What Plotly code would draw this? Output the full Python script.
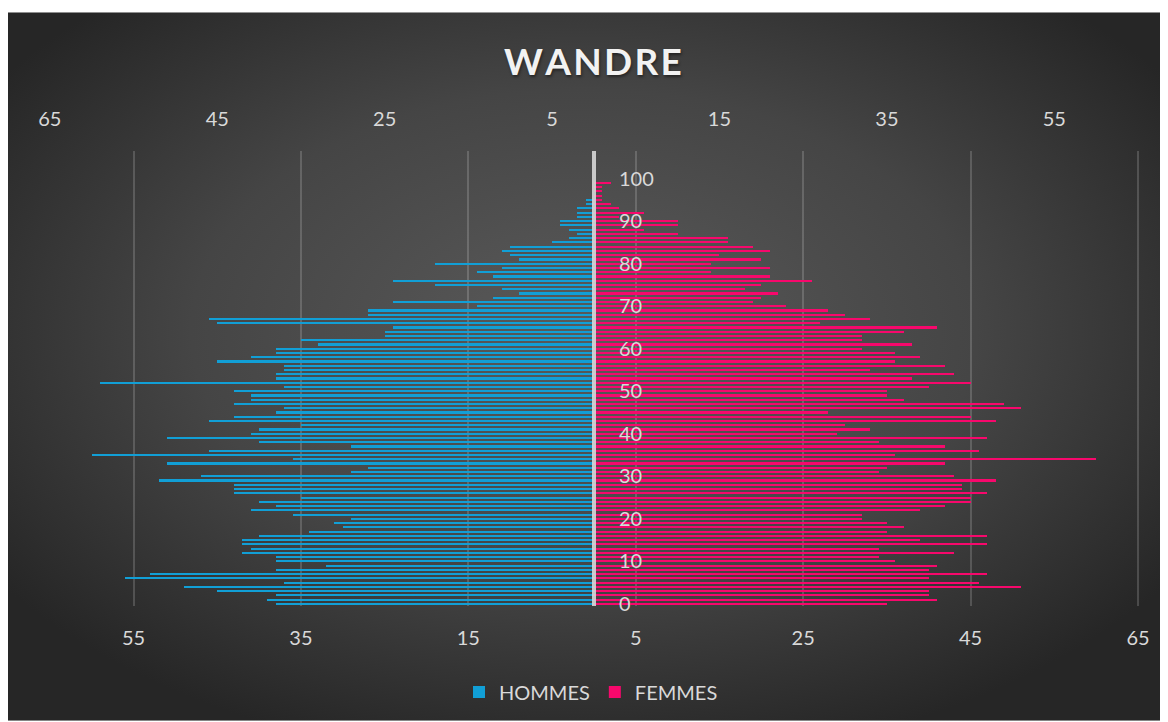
import base64
import plotly.graph_objects as go

# ---------------- data ----------------
ages = list(range(0, 100))

hommes = [38, 39, 38, 45, 49, 37, 56, 53, 38, 32,
          38, 38, 42, 41, 42, 42, 40, 34, 30, 31,
          29, 36, 41, 38, 40, 35, 43, 43, 43, 52,
          47, 29, 27, 51, 36, 60, 46, 29, 40, 51,
          41, 40, 35, 46, 43, 38, 37, 43, 41, 41,
          43, 37, 59, 38, 38, 37, 37, 45, 41, 38,
          38, 33, 35, 25, 25, 24, 45, 46, 27, 27,
          14, 24, 12, 9, 11, 19, 24, 12, 14, 11,
          19, 9, 10, 11, 10, 5, 3, 2, 3, 4,
          4, 2, 2, 2, 1, 1, 0, 0, 0, 0]

femmes = [35, 41, 40, 40, 51, 46, 40, 47, 40, 41,
          36, 34, 43, 34, 47, 39, 47, 35, 37, 35,
          32, 32, 39, 42, 45, 45, 47, 44, 44, 48,
          43, 34, 35, 42, 60, 36, 46, 42, 34, 47,
          29, 33, 30, 48, 45, 28, 51, 49, 37, 35,
          35, 40, 45, 38, 43, 33, 42, 36, 39, 36,
          32, 38, 32, 32, 37, 41, 27, 33, 30, 28,
          23, 19, 20, 22, 18, 20, 26, 21, 14, 21,
          14, 20, 15, 21, 19, 16, 16, 10, 6, 10,
          10, 3, 6, 3, 2, 1, 1, 1, 1, 2]

bottom_ticks = [-55, -35, -15, 5, 25, 45, 65]
top_ticks = [-65, -45, -25, -5, 15, 35, 55]
age_ticks = list(range(0, 101, 10))

title_text = "W\u200aA\u200aN\u200aD\u200aR\u200aE"
series_names = ["HOMMES", "FEMMES"]
colors = ["#119fd6", "#f7086c"]

# ---------------- layout geometry ----------------
W, H = 1168, 722
X_MIN, X_MAX = -65.1, 65.6
ML, MT, MB = 49, 151, 115
UNIT = 8.37
PW = round((X_MAX - X_MIN) * UNIT)
MR = W - ML - PW
PH = H - MT - MB


def px_x(px):
    return (px - ML) / PW


def px_y(py):
    return (H - MB - py) / PH


font_family = "Lato, 'Open Sans', sans-serif"
label_color = "#d9d9d9"

fig = go.Figure()
fig.add_trace(go.Bar(
    y=ages, x=[-v for v in hommes], orientation="h", name=series_names[0],
    marker=dict(color=colors[0], line=dict(width=0)), width=0.5,
    customdata=hommes, hovertemplate="%{y}: %{customdata}<extra>HOMMES</extra>"))
fig.add_trace(go.Bar(
    y=ages, x=femmes, orientation="h", name=series_names[1],
    marker=dict(color=colors[1], line=dict(width=0)), width=0.5,
    hovertemplate="%{y}: %{x}<extra>FEMMES</extra>"))

# radial background
svg = ('<svg xmlns="http://www.w3.org/2000/svg" width="1152" height="710" '
       'viewBox="0 0 1152 710" preserveAspectRatio="none"><defs>'
       '<radialGradient id="g" cx="50%" cy="45%" r="62%">'
       '<stop offset="0" stop-color="#5a5a5a"/>'
       '<stop offset="0.55" stop-color="#454545"/>'
       '<stop offset="1" stop-color="#262626"/></radialGradient></defs>'
       '<rect width="1152" height="710" fill="url(#g)"/></svg>')
src = "data:image/svg+xml;base64," + base64.b64encode(svg.encode()).decode()

fig.update_layout(
    width=W, height=H,
    margin=dict(l=ML, r=MR, t=MT, b=MB, pad=0),
    paper_bgcolor="white", plot_bgcolor="rgba(0,0,0,0)",
    barmode="overlay", bargap=0,
    showlegend=True,
    legend=dict(orientation="h", x=px_x(591), xanchor="center", y=px_y(692), yanchor="middle",
                font=dict(family=font_family, size=20, color=label_color),
                bgcolor="rgba(0,0,0,0)", itemclick=False, itemdoubleclick=False),
    images=[dict(source=src, xref="paper", yref="paper",
                 x=px_x(8), y=px_y(12), sizex=1152 / PW, sizey=710 / PH,
                 xanchor="left", yanchor="top", sizing="stretch", layer="below")],
    xaxis=dict(range=[X_MIN, X_MAX], tickvals=bottom_ticks,
               ticktext=[str(abs(v)) for v in bottom_ticks],
               showgrid=True, gridcolor="rgba(255,255,255,0.17)", gridwidth=1.5,
               zeroline=False, showline=False, ticks="", ticklabelstandoff=18,
               tickfont=dict(family=font_family, size=20, color=label_color),
               fixedrange=True),
    xaxis2=dict(range=[X_MIN, X_MAX], overlaying="x", side="top", tickvals=top_ticks,
                ticktext=[str(abs(v)) for v in top_ticks],
                showgrid=False, zeroline=False, showline=False, ticks="",
                ticklabelstandoff=20,
                tickfont=dict(family=font_family, size=20, color=label_color),
                fixedrange=True),
    yaxis=dict(range=[-0.5, 106.5], tickvals=age_ticks, side="right", anchor="free",
               position=px_x(594), showgrid=False, zeroline=False,
               showline=True, linecolor="rgba(215,215,215,0.9)", linewidth=4,
               ticks="", ticklabelstandoff=19,
               tickfont=dict(family=font_family, size=20, color=label_color),
               fixedrange=True),
    annotations=[dict(text=title_text, x=px_x(593), y=px_y(60), xref="paper", yref="paper",
                      xanchor="center", yanchor="middle", showarrow=False,
                      font=dict(family="Lato, 'Open Sans', sans-serif", size=37,
                                color="#f2f2f2", weight="bold",
                                shadow="1px 2px 3px rgba(0,0,0,0.45)"))],
)

# attach an invisible trace to the top axis so it is laid out
fig.add_trace(go.Scatter(x=[0], y=[0], xaxis="x2", mode="markers",
                         marker=dict(opacity=0), showlegend=False, hoverinfo="skip"))

fig.write_html("out.html", config={"displayModeBar": False},
               post_script="document.body.style.margin='0px';")
